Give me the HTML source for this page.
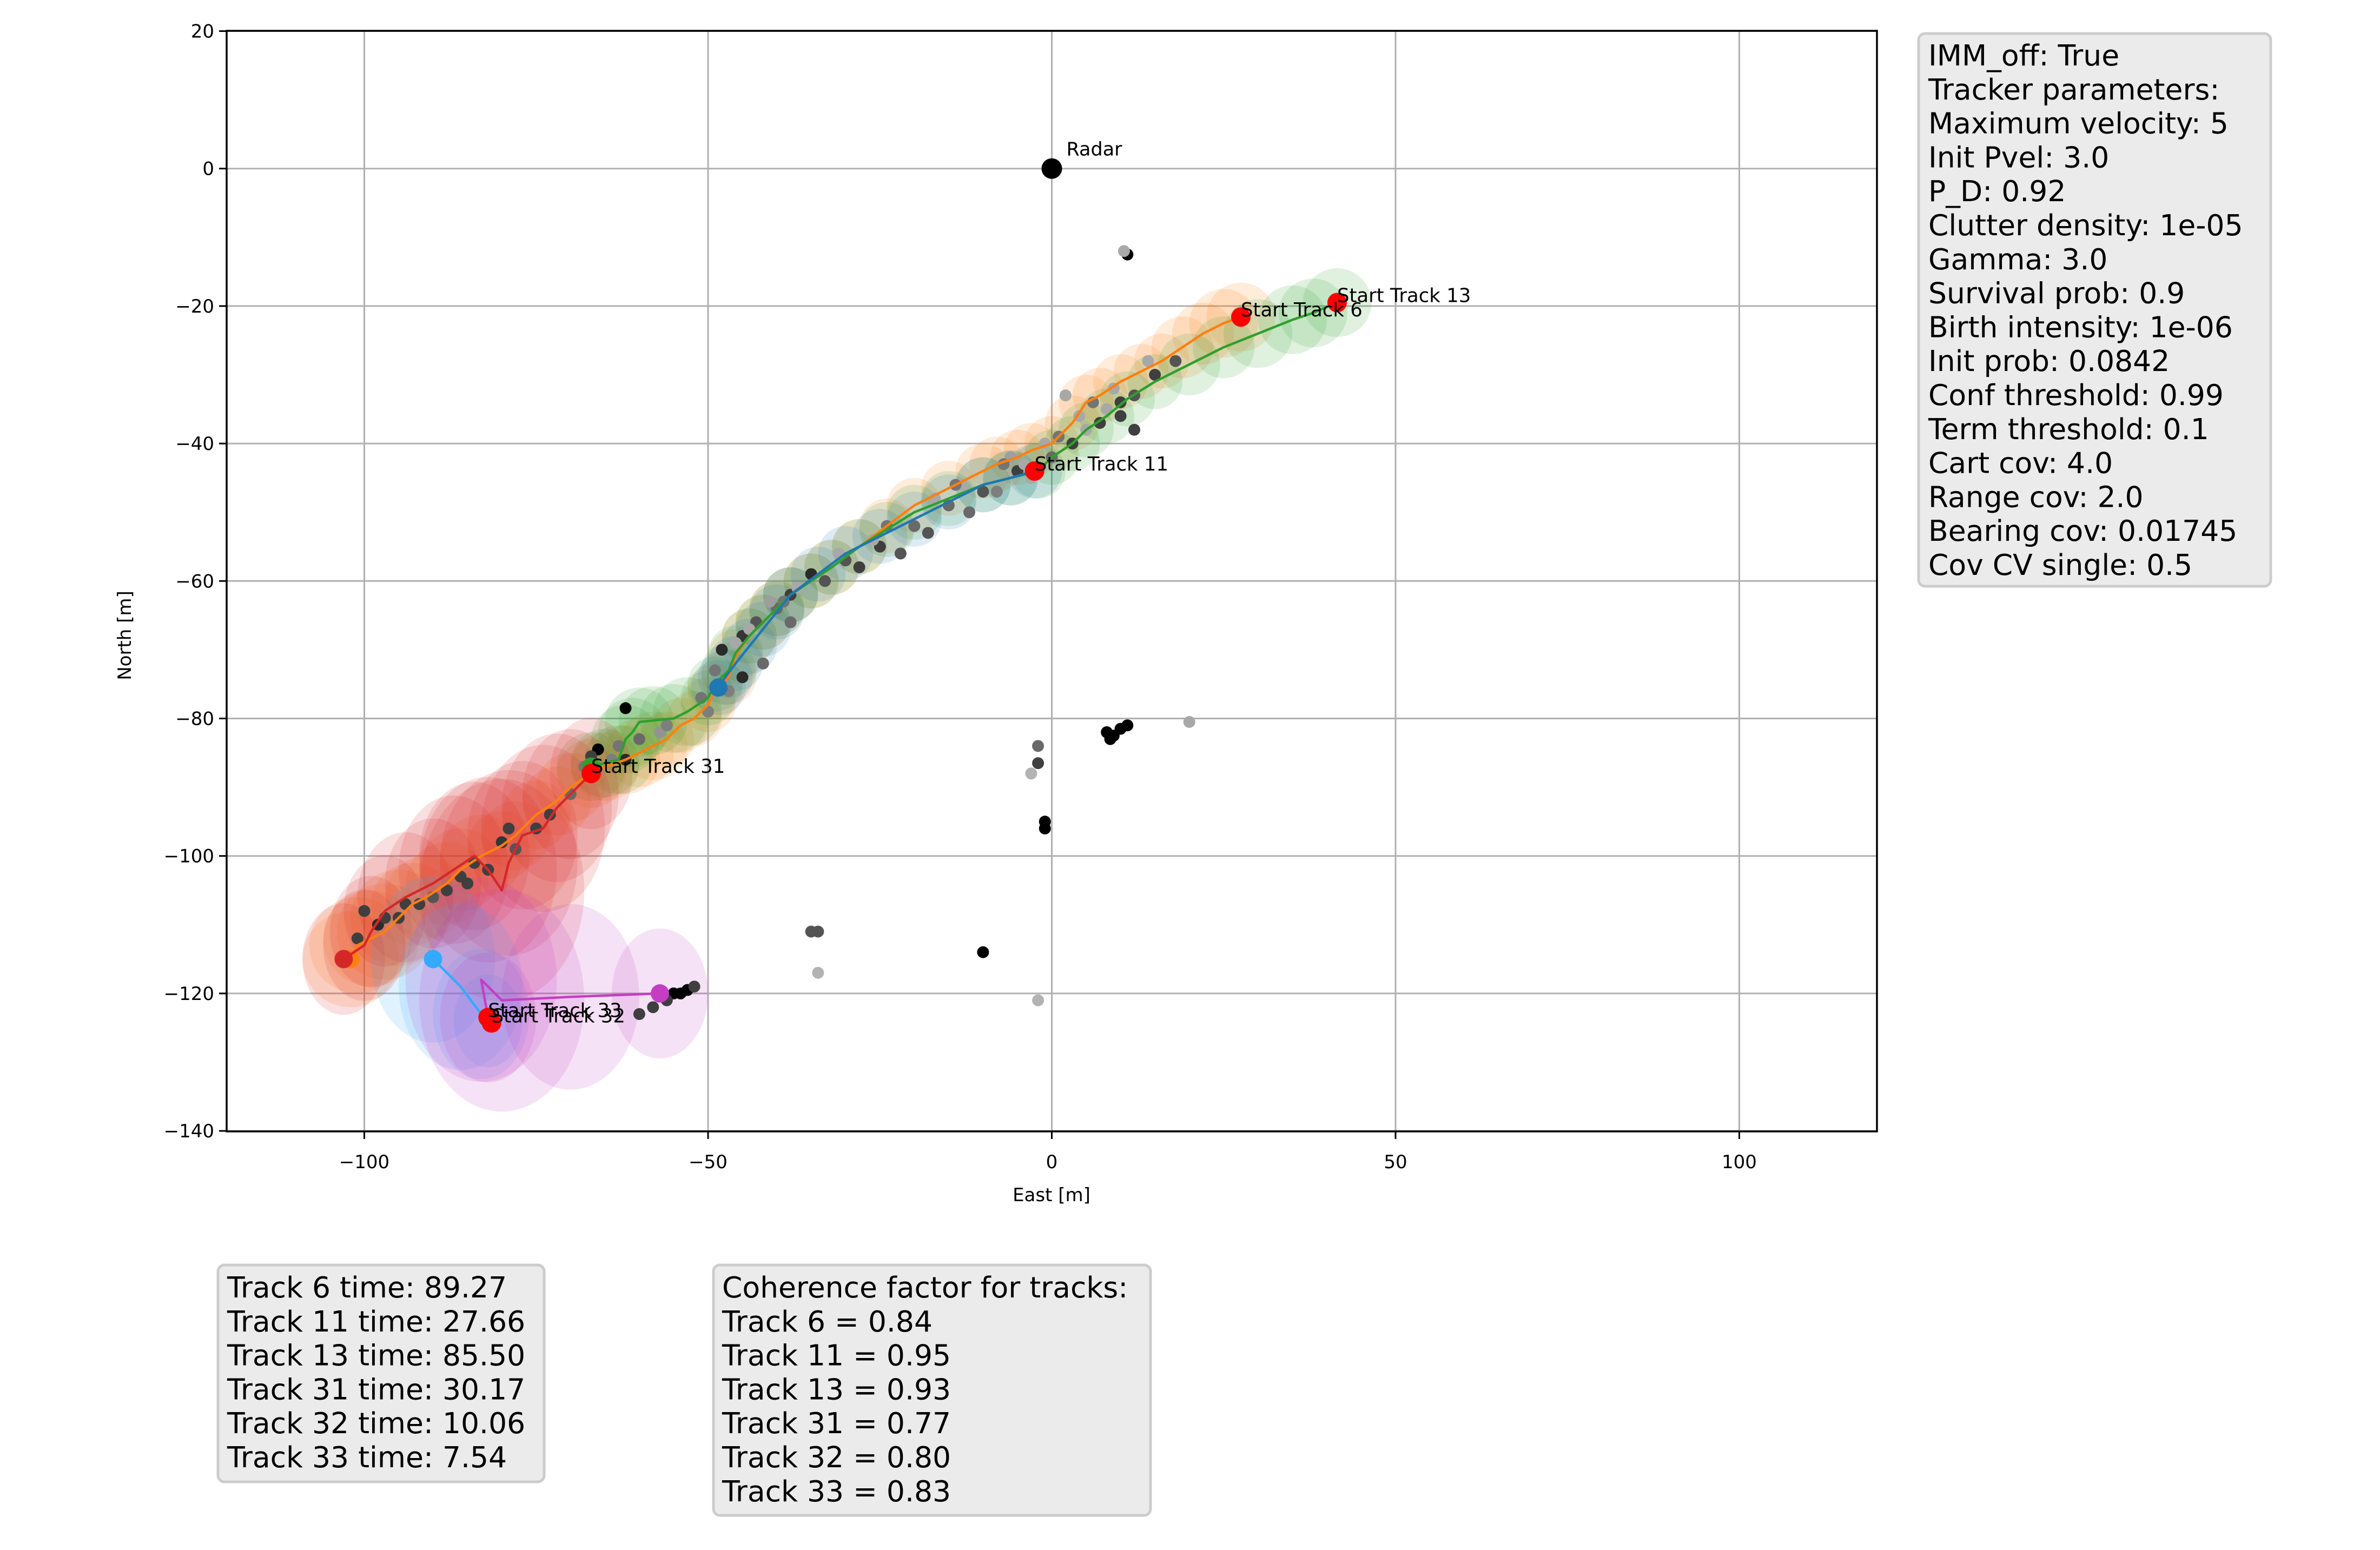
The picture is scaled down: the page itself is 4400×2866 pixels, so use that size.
<!DOCTYPE html>
<html><head><meta charset="utf-8"><style>
html,body{margin:0;padding:0;background:#fff;}
svg{display:block;font-family:"DejaVu Sans","Liberation Sans",sans-serif;}
</style></head><body>
<svg id="chart" width="4400" height="2866" viewBox="0 0 4400 2866" xmlns="http://www.w3.org/2000/svg">
<rect width="4400" height="2866" fill="#fff"/>
<defs><clipPath id="clip"><rect x="419" y="57" width="3051" height="2035"/></clipPath></defs>
<g id="grid"></g>
<g id="plot" clip-path="url(#clip)"></g>
<rect x="419" y="57" width="3051" height="2035" fill="none" stroke="#000" stroke-width="3.5"/>
<g id="ticks"></g>
<text x="1944" y="2221" font-size="34" text-anchor="middle">East [m]</text>
<text x="0" y="0" font-size="34" text-anchor="middle" transform="translate(242,1175) rotate(-90)">North [m]</text>
<g id="boxes"></g>
</svg>
<script>
const NS="http://www.w3.org/2000/svg";
const xTicks=[-100,-50,0,50,100];
const yTicks=[20,0,-20,-40,-60,-80,-100,-120,-140];
const track6=[[27.5,-21.6],[25,-22.5],[22,-24],[19,-26],[16,-28],[13,-29.5],[10,-31],[7,-33],[5,-34],[3,-37],[0,-40],[-3,-41],[-5,-42],[-8,-43],[-10,-44],[-15,-46.5],[-20,-49],[-24,-52],[-28,-55],[-32,-58],[-35,-60],[-38,-62],[-40,-64],[-42,-66],[-44,-68],[-46,-71],[-47,-74],[-49,-76],[-50,-78],[-52,-80],[-54,-81],[-56,-83],[-58,-84],[-60,-85],[-62,-86],[-65,-87],[-67,-88],[-70,-90],[-72,-92],[-75,-94],[-78,-97],[-80,-98.5],[-83,-100],[-86,-102],[-88,-104],[-91,-106],[-93,-107],[-95,-109],[-97,-111],[-99,-112],[-101,-113],[-102,-115]];
const track13=[[41.5,-19.5],[38,-21],[35,-22],[30,-24],[25,-26],[20,-28.5],[15,-31],[11,-33.5],[8,-36],[5,-38],[3,-40],[0,-42],[-2,-44],[-6,-45],[-10,-46],[-15,-48],[-20,-50],[-24,-52.5],[-28,-55],[-32,-58],[-35,-60],[-38,-62],[-40,-64],[-42,-66],[-44,-68],[-46,-70.5],[-47,-73],[-49,-75],[-50,-77],[-53,-79],[-55,-80],[-58,-80.3],[-60,-80.5],[-61,-82],[-62,-83],[-63,-86],[-65,-86.5],[-67,-87]];
const track11=[[-2.5,-44],[-6,-45],[-10,-46],[-15,-48.5],[-20,-51],[-25,-53.5],[-30,-56],[-34,-59],[-38,-62],[-40,-64.5],[-42,-67],[-44,-69.5],[-46,-72],[-47.5,-74],[-48.5,-75.5]];
const track31=[[-67,-88],[-70,-91],[-72,-93],[-74,-96],[-77,-97],[-79,-101],[-80,-105],[-82,-102],[-84,-100],[-87,-102],[-90,-104],[-94,-106],[-97,-108],[-99,-111],[-100,-113],[-103,-115]];
const track32=[[-82,-124],[-83,-123],[-86,-119],[-90,-115]];
const track33=[[-82,-123.5],[-83,-118],[-80,-121],[-70,-120.5],[-57,-120]];
const covRadius6=[5,5,4.5,4.5,4,4,4,4,4,4,4,4,4,4,4,4,4,4,4,4,4,4,4,4,4,4,4,4,4,4,4,4,5,5,5,5,5,5,5,5,5,5,6,6,6,6,6,7,7,7,7,7];
const covRadius13=[5,5,5,5,4.5,4.5,4,4,4,4,4,4,4,4,4,4,4,4,4,4,4,4,4,4,4,4,4,4,4,5,5,5,5,5,5,5,5,5];
const covRadius11=[4,4,4,4,4,4,4,4,4,4,4,4,4,4,4];
const covRadius31=[6,7,8,9,8,10,12,10,8,8,7,7,6,6,6,6];
const covRadius32=[5,7,9,9];
const covRadius33=[7,11,12,10,7];
const measX=[11,10.5,8,8.5,9,10,11,20,-2,-2,-1,-1,-10,-35,-34,-34,-2,-3,-55,-54,-53,-52,-56,-58,-60,-62,-66,-67,-60,-62,-48,-45,-43,-40,-38,-35,-30,-25,-20,-15,-10,-5,-3,0,5,8,12,15,18,-92,-95,-98,-100,-101,-90,-85,-82,-78,-75,-73,-88,-80,-45,-42,-47,-50,-38,-33,-28,-22,-18,-12,-8,-4,3,7,10,-70,-64,-57,2,10,12,-46,-44,-41,-37,-31,-26,-17,-13,-6,-1,4,9,14,-51,-49,-39,-24,-14,-7,1,6,-56,-63,-68,-86,-94,-97,-79,-84];
const measN=[-12.5,-12,-82,-83,-82.5,-81.5,-81,-80.5,-86.5,-84,-95,-96,-114,-111,-111,-117,-121,-88,-120,-120,-119.5,-119,-121,-122,-123,-78.5,-84.5,-85.5,-83,-86,-70,-68,-66,-64,-62,-59,-57,-55,-52,-49,-47,-44,-45,-42,-38,-35,-33,-30,-28,-107,-109,-110,-108,-112,-106,-104,-102,-99,-96,-94,-105,-98,-74,-72,-76,-79,-66,-60,-58,-56,-53,-50,-47,-43,-40,-37,-34,-91,-86,-82,-33,-36,-38,-69,-67,-63,-61,-56,-54,-48,-46,-42,-40,-36,-32,-28,-77,-73,-63,-52,-46,-43,-39,-34,-81,-84,-87,-103,-107,-109,-96,-101];
const measGray=[0,.8,0,0,0,0,0,.8,.3,.5,0,0,0,.4,.4,.85,.85,.85,0,0,0,.3,.3,.3,.3,0,0,.3,.5,.2,.2,.25,.4,.5,.3,.2,.4,.3,.5,.5,.4,.3,.8,.5,.8,.8,.4,.3,.4,.3,.3,.2,.3,.3,.4,.3,.3,.4,.3,.3,.3,.25,.2,.5,.6,.6,.5,.4,.3,.4,.4,.5,.6,.8,.3,.3,.3,.5,.6,.7,.8,.3,.3,.8,.8,.75,.8,.8,.8,.8,.8,.75,.8,.8,.8,.8,.55,.55,.55,.55,.55,.55,.55,.55,.6,.55,.55,.3,.3,.3,.3,.3];
const startLabels=["Start Track 6","Start Track 13","Start Track 11","Start Track 31","Start Track 33","Start Track 32"];
const startX=[27.5,41.5,-2.5,-67,-82,-81.5];
const startN=[-21.6,-19.5,-44,-88,-123.5,-124.3];
const params=["IMM_off: True","Tracker parameters:","Maximum velocity: 5","Init Pvel: 3.0","P_D: 0.92","Clutter density: 1e-05","Gamma: 3.0","Survival prob: 0.9","Birth intensity: 1e-06","Init prob: 0.0842","Conf threshold: 0.99","Term threshold: 0.1","Cart cov: 4.0","Range cov: 2.0","Bearing cov: 0.01745","Cov CV single: 0.5"];
const times=["Track 6 time: 89.27","Track 11 time: 27.66","Track 13 time: 85.50","Track 31 time: 30.17","Track 32 time: 10.06","Track 33 time: 7.54"];
const coh=["Coherence factor for tracks:","Track 6 = 0.84","Track 11 = 0.95","Track 13 = 0.93","Track 31 = 0.77","Track 32 = 0.80","Track 33 = 0.83"];

const X=e=>1944.5+e*12.71, Y=n=>311.7-n*12.71, S=12.71;
function mk(tag,attrs,parent){const el=document.createElementNS(NS,tag);for(const k in attrs)el.setAttribute(k,attrs[k]);parent.appendChild(el);return el;}
const grid=document.getElementById('grid'),plot=document.getElementById('plot'),ticks=document.getElementById('ticks'),boxes=document.getElementById('boxes');
xTicks.forEach(t=>{
 const g=mk('line',{x1:X(t),x2:X(t),y1:57,y2:2092,stroke:'#b0b0b0','stroke-width':3},grid);
 
 
 const tk=mk('line',{x1:X(t),x2:X(t),y1:2092,y2:2106,stroke:'#000','stroke-width':3},ticks);
 
 
 const tx=mk('text',{x:X(t),y:2160,'font-size':34,'text-anchor':'middle'},ticks);
 tx.textContent=(t<0?'\u2212'+(-t):t);
 
 
});
yTicks.forEach(t=>{
 const g=mk('line',{x1:419,x2:3470,y1:Y(t),y2:Y(t),stroke:'#b0b0b0','stroke-width':3},grid);
 
 
 const tk=mk('line',{x1:405,x2:419,y1:Y(t),y2:Y(t),stroke:'#000','stroke-width':3},ticks);
 
 
 const tx=mk('text',{x:396,y:Y(t)+12,'font-size':34,'text-anchor':'end'},ticks);
 tx.textContent=(t<0?'\u2212'+(-t):t);
 
 
});
const tracks=[[track6,covRadius6,'#ff7f0e','track-6'],[track13,covRadius13,'#2ca02c','track-13'],[track11,covRadius11,'#1f77b4','track-11'],[track31,covRadius31,'#d62728','track-31'],[track32,covRadius32,'#33aaff','track-32'],[track33,covRadius33,'#c43ec4','track-33']];
tracks.forEach(([pts,rads,col,name])=>{
 pts.forEach((p,i)=>{
  const tall=(name==='track-31'||name==='track-32'||name==='track-33')?1.35:1;
  const c=mk('ellipse',{cx:X(p[0]),cy:Y(p[1]),rx:rads[i]*S,ry:rads[i]*S*tall,fill:col,'fill-opacity':0.15},plot);
  
  
 });
});
measX.forEach((e,i)=>{
 const g=Math.round(measGray[i]*210);
 const c=mk('circle',{cx:X(e),cy:Y(measN[i]),r:11,fill:`rgb(${g},${g},${g})`},plot);
 
 
});
tracks.forEach(([pts,rads,col,name])=>{
 const l=mk('polyline',{points:pts.map(p=>X(p[0])+','+Y(p[1])).join(' '),fill:'none',stroke:col,'stroke-width':4.5,'stroke-linejoin':'round'},plot);
 
 
 const last=pts[pts.length-1];
 const d=mk('circle',{cx:X(last[0]),cy:Y(last[1]),r:17,fill:col},plot);
 
 
});
startX.forEach((e,i)=>{
 const d=mk('circle',{cx:X(e),cy:Y(startN[i]),r:18,fill:'#ff0000'},plot);
 
 
});
startX.forEach((e,i)=>{
 const t=mk('text',{x:X(e),y:Y(startN[i])-1,'font-size':35.5},plot);
 t.textContent=startLabels[i];
 
 
});
const rd=mk('circle',{cx:X(0),cy:Y(0),r:19,fill:'#000'},plot);


const rl=mk('text',{x:X(0)+27,y:Y(0)-24,'font-size':35},plot);
rl.textContent='Radar';



function box(x,y,w,h,lines,tx,ty,name){
 const g=mk('g',{},boxes);
 
 
 mk('rect',{x:x,y:y,width:w,height:h,rx:12,fill:'#ebebeb',stroke:'#cccccc','stroke-width':5},g);
 lines.forEach((s,i)=>{const t=mk('text',{x:tx,y:ty+i*62.8,'font-size':53.5},g);t.textContent=s;});
}
box(3547,62,651,1022,params,3565,121,'parameters-box');
box(403,2339,603,401,times,420,2399,'track-times-box');
box(1319,2339,808,463,coh,1335,2399,'coherence-box');
</script>
</body></html>
